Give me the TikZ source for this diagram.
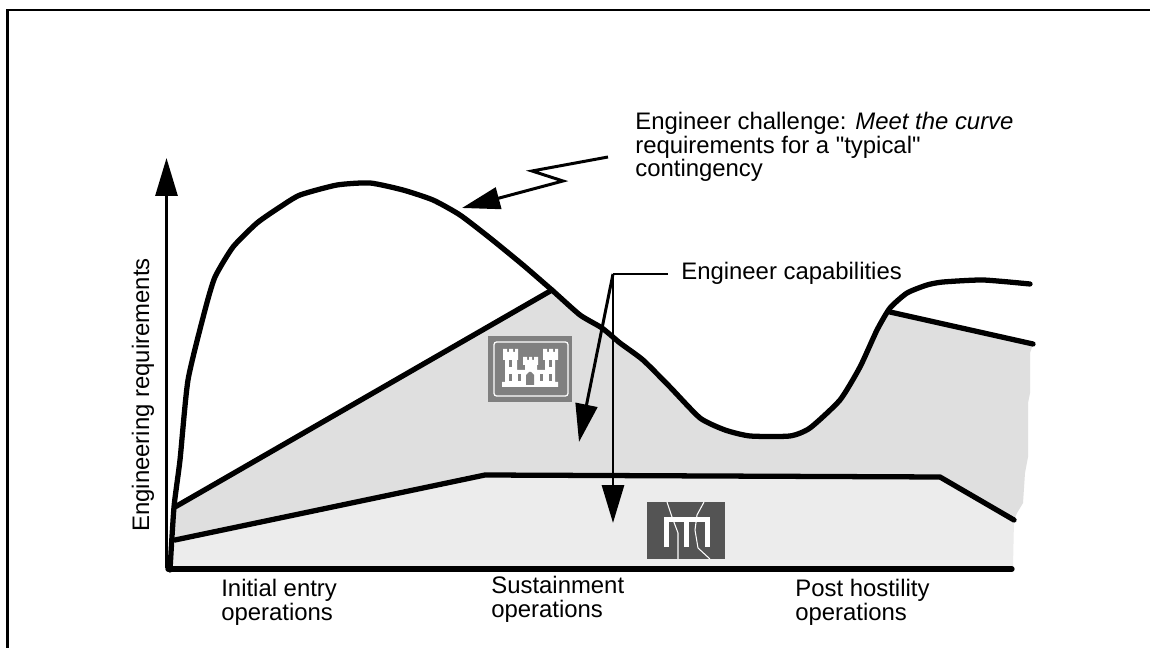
\documentclass[tikz,border=0pt]{standalone}
\usepackage{fontspec}
\newfontfamily\labelfont{Liberation Sans}
\usetikzlibrary{arrows.meta, positioning}
\definecolor{upperfill}{gray}{0.875}
\definecolor{lowerfill}{gray}{0.925}
\definecolor{logogray}{gray}{0.5}
\definecolor{bridgegray}{gray}{0.33}
\tikzset{
 curveline/.style={line width=3pt, line join=round, line cap=round},
 pointer/.style={line width=1.7pt, -{Triangle[length=21.6pt,width=12.5pt]}},
 label/.style={font=\labelfont\fontsize{13.6}{13.3}\selectfont, align=left, inner sep=0pt}
}
\begin{document}
\begin{tikzpicture}[x=0.02cm, y=-0.02cm]
 \useasboundingbox (0,0) rectangle (1150,648);
 \path[fill=white] (0,0) rectangle (1150,648);
 \draw[line width=1.3pt] (7.5,660) -- (7.5,10) -- (1160,10); % frame
 % shaded areas
 \fill[upperfill] (175,507) -- (552,290) -- (580,315) -- (602,328) -- (620,343) -- (643,360) -- (670,387) -- (700,418) -- (725,430) -- (750,436) -- (790,436) -- (810,428) -- (840,400) -- (860,367) -- (877,330) -- (890,312) -- (1033,344) -- (1030,353) -- (1030,393) -- (1028,403) -- (1028,457) -- (1025,473) -- (1023,503) -- (1017,513) -- (1014,520) -- (940,477) -- (485,475) -- (175,540) -- cycle;
 \fill[lowerfill] (175,540) -- (485,475) -- (940,477) -- (1014,520) -- (1013,567) -- (172,569) -- cycle;
 % requirement curve
 \draw[curveline] plot[smooth, tension=0.35] coordinates {(170,570) (174,507) (180,460) (188,380) (205,310) (215,277) (233,247) (257,223) (280,207) (300,195) (337,185) (370,183) (403,190) (433,200) (460,215) (490,238) (523,265) (553,291) (580,315) (602,328) (620,343) (643,360) (670,387) (700,418) (725,430) (750,436) (790,436) (810,428) (840,400) (860,367) (877,330) (890,308) (907,293) (927,285) (943,282) (983,280) (1030,284)};
 % capability lines
 \draw[curveline] (175,507) -- (552,290);
 \draw[curveline] (890,312) -- (1033,344);
 \draw[curveline] (175,540) -- (485,475) -- (940,477) -- (1014,520);
 \draw[curveline] (168,569) -- (1012,569);
 % axis
 \coordinate (axistop) at (166.5,158);
 \coordinate (axisfoot) at (166.5,568);
 \draw[pointer] (axisfoot) -- (axistop);
 % castle logo
 \node[minimum width=84*0.569pt, minimum height=66*0.569pt, fill=logogray, inner sep=0pt] (castle) at (530,369) {};
 \draw[white, line width=0.7pt, rounded corners=1.5pt] (494,342) rectangle (568,396);
 \fill[white] (502,387) -- (502,382) -- (505,382) -- (505,360) -- (503,360) -- (503,349) -- (507,349) -- (507,352) -- (509,352) -- (509,349) -- (513,349) -- (513,352) -- (515,352) -- (515,349) -- (518,349) -- (518,360) -- (517,360) -- (517,370) -- (525,370) -- (525,365) -- (523,365) -- (523,357) -- (527,357) -- (527,360) -- (529,360) -- (529,357) -- (532,357) -- (532,360) -- (534,360) -- (534,357) -- (538,357) -- (538,365) -- (537,365) -- (537,370) -- (545,370) -- (545,360) -- (543,360) -- (543,349) -- (547,349) -- (547,352) -- (549,352) -- (549,349) -- (553,349) -- (553,352) -- (555,352) -- (555,349) -- (558,349) -- (558,360) -- (555,360) -- (555,382) -- (558,382) -- (558,387) -- cycle;
 \fill[logogray] (526,385) -- (526,375) -- (529,372) -- (531,372) -- (534,375) -- (534,385) -- cycle;
 \foreach \X in {509,518,540,549} {\fill[logogray] (\X,374) rectangle ++(3,7);}
 \foreach \X in {509,549} {\fill[logogray] (\X,360) rectangle ++(3,7);}
 % bridge logo
 \node[minimum width=78*0.569pt, minimum height=57*0.569pt, fill=bridgegray, inner sep=0pt] (bridge) at (686,530.5) {};
 \draw[white, line width=2.85pt] (666,547) -- (666,519.5) -- (707.5,519.5) -- (707.5,547);
 \draw[white, line width=2.85pt] (686.5,519.5) -- (686.5,547);
 \draw[white, line width=0.6pt] (667,502) -- (672,517) -- (678,533) -- (678,559);
 \draw[white, line width=0.6pt] (704,502) -- (697,515) -- (695,530) -- (698,548) -- (710,559);
 % pointer from challenge note
 \coordinate (noteend) at (608,157);
 \coordinate (notetip) at (462,208);
 \draw[pointer] (noteend) -- (532,171) -- (563,181) -- (notetip);
 % capability pointers
 \coordinate (capjoint) at (613,274);
 \coordinate (captipa) at (579,442);
 \coordinate (captipb) at (613,523);
 \draw[line width=1.7pt] (668,274) -- (capjoint);
 \draw[pointer] (capjoint) -- (captipa);
 \draw[pointer] (capjoint) -- (captipb);
 % labels
 \node[label, anchor=north west] (note) at (635,112) {Engineer challenge: \textit{Meet the curve}\\requirements for a "typical"\\contingency};
 \node[label, anchor=west] (caplabel) at (681,273) {Engineer capabilities};
 \node[label, rotate=90] (ylabel) at (143,395) {Engineering requirements};
 \node[label, anchor=north west] (entry) at (221,579) {Initial entry\\operations};
 \node[label, anchor=north west] (sustain) at (491,576) {Sustainment\\operations};
 \node[label, anchor=north west] (post) at (795,579) {Post hostility\\operations};
\end{tikzpicture}
\end{document}
